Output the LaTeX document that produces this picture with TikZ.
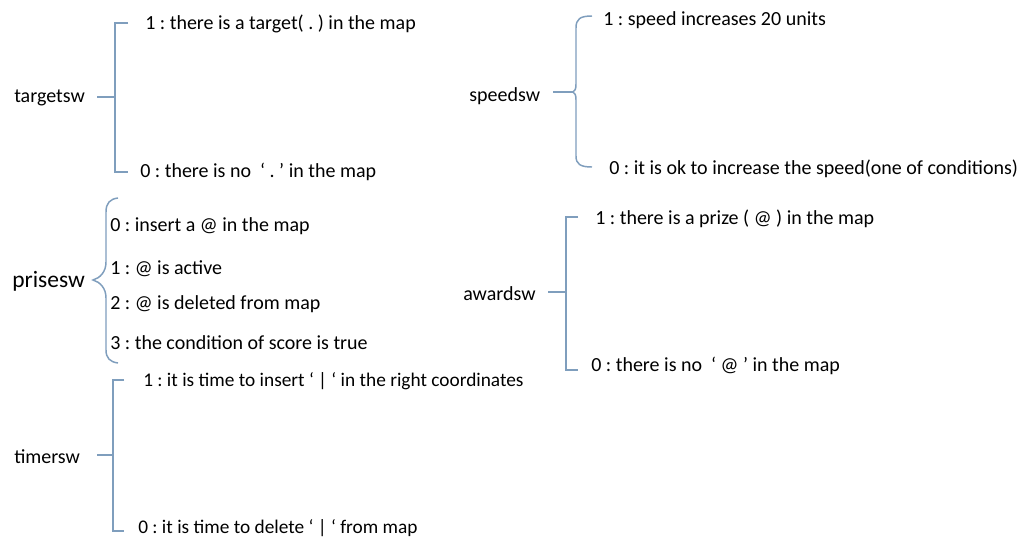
\documentclass[tikz,border=0pt]{standalone}
\usepackage{fontspec}
\setmainfont{Carlito}
\definecolor{brkc}{HTML}{7F9EBD}
\begin{document}
\frenchspacing
\begin{tikzpicture}[x=0.75pt,y=-0.75pt,
  lbl/.style={anchor=west,inner sep=0pt,yshift=-1pt,font=\fontsize{15}{16}\selectfont},
  narrowlbl/.style={lbl,font=\fontsize{14.5}{16}\selectfont},
  biglbl/.style={anchor=west,inner sep=0pt,yshift=-1pt,font=\fontsize{17.6}{19}\selectfont},
  brk/.style={draw=brkc,line width=1.1pt}]
\useasboundingbox[fill=white] (0,0) rectangle (1028,550);

% targetsw
\node[lbl] (tgt) at (14,97) {targetsw};
\node[lbl] (tgt1) at (145,23) {1 : there is a target( . ) in the map};
\node[lbl] (tgt0) at (140,171) {0 : there is no\ \ ‘ . ’ in the map};
\coordinate (tgtL) at (97,97);
\coordinate (tgtM) at (115,97);
\coordinate (tgtT) at (128,23);
\coordinate (tgtB) at (128,172);
\draw[brk] (tgtL) -- (tgtM);
\draw[brk] (tgtT) -- (tgtT -| tgtM) -- (tgtB -| tgtM) -- (tgtB);

% speedsw
\node[lbl] (spd) at (469,95) {speedsw};
\node[lbl] (spd1) at (603,19) {1 : speed increases 20 units};
\node[lbl] (spd0) at (609,167) {0 : it is ok to increase the speed(one of conditions)};
\coordinate (spdL) at (553,92);
\coordinate (spdC) at (573,92);
\coordinate (spdT) at (592,16);
\coordinate (spdB) at (592,167);
\draw[brk] (spdL) -- (spdC);
\draw[brk] (spdT) .. controls (580,16) and (576,19) .. (576,28) -- (576,84)
  .. controls (576,89) and (575,91) .. (spdC)
  .. controls (575,93) and (576,95) .. (576,100) -- (576,156)
  .. controls (576,164) and (580,167) .. (spdB);

% prisesw
\node[biglbl] (pri) at (12,280) {prisesw};
\node[lbl] (pri0) at (110,225) {0 : insert a @ in the map};
\node[lbl] (pri1) at (110,267) {1 : @ is active};
\node[lbl] (pri2) at (110,303) {2 : @ is deleted from map};
\node[lbl] (pri3) at (110,341) {3 : the condition of score is true};
\coordinate (priC) at (93,280);
\coordinate (priT) at (118,198);
\coordinate (priB) at (118,363);
\draw[brk] (priT) .. controls (110,199) and (106,203) .. (106,212) -- (106,262)
  .. controls (106,272) and (100,278) .. (priC)
  .. controls (100,282) and (106,288) .. (106,298) -- (106,350)
  .. controls (106,358) and (110,362) .. (priB);

% awardsw
\node[lbl] (awd) at (463,292) {awardsw};
\node[lbl] (awd1) at (595,217) {1 : there is a prize ( @ ) in the map};
\node[lbl] (awd0) at (591,365) {0 : there is no\ \ ‘ @ ’ in the map};
\coordinate (awdL) at (548,292);
\coordinate (awdM) at (566,292);
\coordinate (awdT) at (578,217);
\coordinate (awdB) at (578,370);
\draw[brk] (awdL) -- (awdM);
\draw[brk] (awdT) -- (awdT -| awdM) -- (awdB -| awdM) -- (awdB);

% timersw
\node[lbl] (tim) at (14,455) {timersw};
\node[narrowlbl] (tim1) at (143,380) {1 : it is time to insert ‘ | ‘ in the right coordinates};
\node[narrowlbl] (tim0) at (138,527) {0 : it is time to delete ‘ | ‘ from map};
\coordinate (timL) at (97,455);
\coordinate (timM) at (113,455);
\coordinate (timT) at (124,380);
\coordinate (timB) at (124,531);
\draw[brk] (timL) -- (timM);
\draw[brk] (timT) -- (timT -| timM) -- (timB -| timM) -- (timB);
\end{tikzpicture}
\end{document}
